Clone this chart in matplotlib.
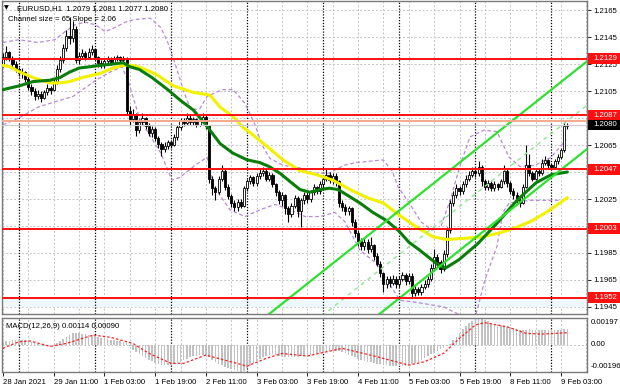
import matplotlib
matplotlib.use("Agg")
import matplotlib.pyplot as plt
from matplotlib.patches import Rectangle
import matplotlib.transforms as mtransforms

plt.rcParams['font.family'] = ['Liberation Sans', 'DejaVu Sans']

# ---------------- data (prices as 4-digit offsets: 2130 -> 1.2130) ----------------
first_open = 2125
closes = [2130, 2134, 2129, 2125, 2121, 2118, 2119, 2114, 2108, 2105,
          2101, 2103, 2100, 2104, 2107, 2106, 2112, 2121, 2128, 2137,
          2146, 2144, 2151, 2128, 2131, 2133, 2130, 2134, 2136, 2130,
          2126, 2124, 2127, 2129, 2126, 2129, 2130, 2128, 2129, 2090,
          2084, 2088, 2076, 2082, 2085, 2079, 2074, 2077, 2070, 2066,
          2062, 2064, 2067, 2065, 2071, 2078, 2083, 2081, 2085, 2082,
          2084, 2080, 2083, 2086, 2079, 2040, 2033, 2030, 2040, 2046,
          2034, 2027, 2022, 2019, 2023, 2020, 2033, 2038, 2041, 2037,
          2042, 2044, 2046, 2040, 2043, 2036, 2030, 2024, 2028, 2018,
          2014, 2020, 2026, 2016, 2024, 2028, 2025, 2030, 2034, 2031,
          2036, 2040, 2043, 2039, 2042, 2038, 2022, 2019, 2016, 2018,
          2008, 2000, 1994, 1990, 1993, 1988, 1991, 1983, 1977, 1970,
          1962, 1966, 1963, 1966, 1962, 1966, 1969, 1964, 1968, 1955,
          1958, 1956, 1960, 1962, 1966, 1974, 1982, 1978, 1973, 1984,
          2002, 2022, 2028, 2033, 2031, 2036, 2040, 2043, 2046, 2044,
          2049, 2038, 2034, 2037, 2033, 2036, 2034, 2038, 2046, 2037,
          2031, 2028, 2024, 2022, 2034, 2050, 2044, 2040, 2046, 2044,
          2052, 2054, 2050, 2049, 2053, 2056, 2061, 2079, 2080]
highs = [2133, 2138, 2135, 2131, 2127, 2123, 2122, 2120, 2116, 2110,
         2107, 2106, 2105, 2106, 2110, 2109, 2114, 2124, 2131, 2140,
         2150, 2160, 2157, 2153, 2134, 2136, 2135, 2137, 2139, 2137,
         2131, 2128, 2129, 2131, 2130, 2131, 2132, 2131, 2131, 2130,
         2094, 2092, 2089, 2084, 2089, 2086, 2081, 2079, 2078, 2072,
         2067, 2067, 2069, 2069, 2073, 2080, 2085, 2085, 2089, 2087,
         2086, 2085, 2085, 2089, 2087, 2080, 2042, 2035, 2042, 2050,
         2047, 2036, 2029, 2024, 2025, 2025, 2035, 2040, 2043, 2042,
         2044, 2048, 2049, 2047, 2045, 2044, 2037, 2032, 2030, 2029,
         2020, 2022, 2028, 2027, 2026, 2030, 2030, 2032, 2036, 2035,
         2038, 2042, 2047, 2045, 2044, 2044, 2039, 2024, 2021, 2020,
         2019, 2010, 2002, 1996, 1996, 1995, 1997, 1992, 1985, 1979,
         1971, 1968, 1968, 1969, 1968, 1968, 1971, 1970, 1970, 1970,
         1961, 1960, 1962, 1965, 1968, 1977, 1988, 1984, 1980, 1987,
         2004, 2024, 2031, 2036, 2035, 2038, 2043, 2046, 2049, 2048,
         2053, 2050, 2040, 2039, 2038, 2038, 2037, 2040, 2050, 2047,
         2038, 2033, 2030, 2026, 2036, 2065, 2058, 2046, 2048, 2048,
         2055, 2057, 2055, 2052, 2055, 2058, 2063, 2082, 2081]
lows = [2123, 2128, 2127, 2123, 2119, 2116, 2115, 2112, 2106, 2102,
        2098, 2099, 2097, 2099, 2102, 2103, 2105, 2110, 2119, 2126,
        2135, 2140, 2141, 2126, 2125, 2129, 2128, 2129, 2132, 2128,
        2123, 2122, 2122, 2125, 2124, 2125, 2127, 2126, 2126, 2087,
        2080, 2082, 2072, 2074, 2080, 2077, 2072, 2071, 2068, 2063,
        2057, 2060, 2062, 2063, 2064, 2069, 2076, 2079, 2080, 2080,
        2080, 2078, 2079, 2082, 2077, 2037, 2028, 2024, 2029, 2038,
        2032, 2025, 2019, 2016, 2016, 2018, 2019, 2031, 2036, 2035,
        2035, 2040, 2042, 2038, 2038, 2034, 2027, 2021, 2020, 2014,
        2008, 2012, 2018, 2012, 2004, 2021, 2022, 2023, 2028, 2029,
        2029, 2034, 2038, 2037, 2036, 2035, 2019, 2016, 2013, 2013,
        2005, 1997, 1990, 1987, 1987, 1985, 1986, 1980, 1975, 1967,
        1956, 1959, 1960, 1961, 1959, 1960, 1964, 1961, 1962, 1952,
        1953, 1954, 1954, 1958, 1960, 1964, 1972, 1975, 1970, 1972,
        1982, 2000, 2020, 2026, 2028, 2029, 2034, 2038, 2041, 2041,
        2042, 2035, 2032, 2032, 2031, 2031, 2032, 2033, 2036, 2034,
        2029, 2025, 2022, 2019, 2021, 2033, 2042, 2038, 2039, 2042,
        2043, 2050, 2048, 2047, 2048, 2051, 2055, 2060, 2077]
opens = [first_open] + closes[:-1]

# moving averages (sampled readings: bar index, price offset)
green_i = [0, 5.4, 9.5, 14.8, 18, 21, 24, 27.4, 30.6, 34.7, 37.9, 40, 43, 47, 52, 56, 60, 64,
           68.5, 72.5, 77, 81, 84, 87.4, 90.5, 93.7, 96.8, 100, 103, 105.7, 108.5, 112.6,
           116.7, 121, 125, 128, 131.5, 134.7, 137.9, 139.7, 143.8, 149.8, 155.8, 162.1,
           168.1, 172.9, 178]
green_v = [2106, 2109, 2112, 2113, 2115, 2119, 2122, 2123, 2124, 2125, 2126, 2123, 2121, 2115,
           2106, 2098, 2091, 2080, 2066, 2059, 2054, 2052, 2049, 2044, 2038, 2032, 2030, 2032,
           2033, 2032, 2028, 2022, 2015, 2009, 2001, 1993, 1987, 1981, 1975, 1974, 1980, 1992,
           2007, 2024, 2037, 2043, 2045]
yellow_i = [0, 2.2, 5.4, 9.5, 14.8, 18, 21, 25, 30.6, 34.7, 37.9, 41, 44, 48.6, 53.6, 60, 65.3,
            68.5, 72.6, 75.7, 78, 83.3, 88.3, 93.7, 99, 104, 109.5, 114.8, 120, 125, 130.6,
            135.6, 140, 146.4, 151.4, 156.8, 162, 167, 172.6, 178]
yellow_v = [2124, 2123, 2119, 2115, 2111, 2111, 2112, 2115, 2118, 2122, 2124, 2124, 2122, 2117,
            2109, 2104, 2102, 2093, 2086, 2078, 2074, 2064, 2054, 2046, 2043, 2039, 2032, 2026,
            2022, 2013, 2004, 1997, 1995, 1996, 1997, 2000, 2004, 2009, 2017, 2026]
band_up_i = [0, 5, 11, 16.4, 19.6, 22.7, 25.9, 29.3, 32.2, 35.3, 38.5, 41.6, 46.4, 49.8, 52,
             54.6, 57.1, 59.3, 62.1, 64.4, 69.1, 72.6, 76.3, 79.5, 81.7, 84.2, 88.3, 93.7,
             98.1, 102.8, 107.6, 111.4, 119.9, 122.7, 124.6, 128.4, 131.9, 135.3, 137.9, 141,
             144.2, 147.3, 151.7, 155.8, 159.6, 163.1, 167.8, 172.9, 177.6]
band_up_v = [2141, 2143, 2141, 2143, 2149, 2154, 2156, 2154, 2149, 2152, 2156, 2158, 2159, 2152,
             2141, 2123, 2104, 2091, 2092, 2101, 2106, 2106, 2096, 2080, 2065, 2055, 2050, 2048,
             2044, 2044, 2050, 2052, 2054, 2046, 2034, 2021, 2008, 2002, 2003, 2024, 2050, 2071,
             2076, 2075, 2056, 2049, 2050, 2056, 2069]
band_lo_i = [0, 5, 11, 16.4, 22.1, 29.3, 33.8, 37.5, 39.4, 43.2, 49.8, 53.3, 55.8, 60.6, 64.4,
             66.6, 71.6, 76.3, 81.1, 85.8, 90.5, 95.3, 100, 104.7, 107.9, 112.6, 117.4, 121.1,
             125.2, 131.5, 139.1, 144.2, 148.9, 152, 155.8, 157.7, 159.6, 166.2, 177.6]
band_lo_v = [2080, 2085, 2093, 2097, 2101, 2113, 2119, 2123, 2113, 2084, 2059, 2039, 2041, 2050,
             2056, 2034, 2017, 2012, 2017, 2021, 2017, 2012, 2012, 2015, 2008, 1987, 1978, 1965,
             1950, 1948, 1945, 1939, 1937, 1965, 1990, 2015, 2022, 2024, 2024]

# regression channel (Channel size = 65, Slope = 2.06)
chan_i = [80, 184.2]
chan_upper = [1932.4, 2127.0]
chan_size = 65

levels = [2129, 2087, 2047, 2003, 1952]
last_price = 2080

# MACD (values in 1e-5)
macd_hist = [25, 28, 32, 36, 40, 40, 38, 35, 30, 25,
             18, 10, 4, -5, -10, -8, 0, 12, 28, 45,
             60, 75, 85, 88, 86, 82, 78, 75, 72, 66,
             60, 55, 50, 45, 40, 36, 32, 26, 20, 12,
             -10, -35, -50, -65, -80, -95, -108, -118, -128, -136,
             -142, -146, -146, -144, -138, -130, -120, -110, -100, -90,
             -82, -76, -73, -73, -76, -90, -110, -125, -138, -148,
             -158, -166, -174, -182, -190, -196, -188, -170, -150, -132,
             -115, -100, -88, -76, -70, -66, -70, -76, -82, -86,
             -88, -88, -86, -84, -82, -80, -78, -75, -70, -65,
             -60, -55, -50, -45, -42, -40, -45, -52, -60, -70,
             -80, -90, -100, -108, -115, -120, -125, -130, -135, -140,
             -143, -146, -150, -152, -155, -155, -153, -150, -145, -140,
             -130, -120, -108, -95, -82, -68, -55, -42, -30, -18,
             -6, 10, 35, 62, 90, 115, 140, 160, 178, 190,
             197, 192, 182, 172, 164, 156, 150, 145, 140, 135,
             130, 125, 118, 112, 108, 112, 116, 112, 110, 110,
             112, 113, 112, 112, 110, 108, 110, 116, 114]
sig_i = [0, 5, 8.5, 15, 20, 28.5, 34, 41, 46, 53, 57, 64, 70, 77, 83, 88, 96, 107, 118, 128,
         133, 139, 144, 149, 152, 159, 165, 170, 178]
sig_v = [-24, 24, 30, -10, 12, 73, 56, 12, -60, -133, -133, -73, -110, -153, -97, -61, -80,
         -24, -85, -146, -121, -60, 49, 146, 163, 133, 85, 80, 90]

xtick_labels = ["28 Jan 2021", "29 Jan 11:00", "1 Feb 03:00", "1 Feb 19:00", "2 Feb 11:00",
                "3 Feb 03:00", "3 Feb 19:00", "4 Feb 11:00", "5 Feb 03:00", "5 Feb 19:00",
                "8 Feb 11:00", "9 Feb 03:00"]
xtick_pos = [0, 16, 32, 48, 64, 80, 96, 112, 128, 144, 160, 176]
day_sep = [5, 29, 53, 77, 101, 125, 149, 173]
price_ticks = [1945, 1965, 1985, 2005, 2025, 2045, 2065, 2085, 2105, 2125, 2145, 2165]
hidden_ticks = [2005, 2045, 2085]   # covered by the level labels


def P(v):
    return 1.0 + v / 10000.0


# ---------------- figure ----------------
W, H = 620, 388
fig = plt.figure(figsize=(W / 100, H / 100), dpi=100)
fig.patch.set_facecolor('white')


def fx(px):
    return px / W


def fy(py):
    return 1 - py / H


ax = fig.add_axes([fx(2), fy(314), fx(587) - fx(2), fy(1) - fy(314)])
axm = fig.add_axes([fx(2), fy(372), fx(587) - fx(2), fy(318) - fy(372)])
XL = (-0.3, 184.2)
ax.set_xlim(*XL)
axm.set_xlim(*XL)
ax.set_ylim(1.19398, 1.21717)
axm.set_ylim(-0.00196, 0.00197)

FS = 5.6
grid_c = '#c4c4c4'
for a in (ax, axm):
    for s in a.spines.values():
        s.set_color('#7a7a7a')
        s.set_linewidth(1.0)
    for k in range(0, 185, 8):
        a.axvline(k, color=grid_c, lw=0.7, ls=(0, (2, 2)), zorder=0)
    for d in day_sep:
        a.axvline(d, color='black', lw=0.9, ls=(0, (1, 1.3)), zorder=1)

for t in price_ticks:
    ax.axhline(P(t), color=grid_c, lw=0.7, ls=(0, (2, 2)), zorder=0)
axm.axhline(0, color=grid_c, lw=0.7, ls=(0, (2, 2)), zorder=0)

# faint zone under lowest level
ax.axhspan(P(1945.5), P(1951.5), color='#eef7fb', zorder=0)

# bands
ax.plot(band_up_i, [P(v) for v in band_up_v], color='#b98ad8', lw=0.9, ls=(0, (3, 2)), zorder=2)
ax.plot(band_lo_i, [P(v) for v in band_lo_v], color='#b98ad8', lw=0.9, ls=(0, (3, 2)), zorder=2)

# candles
n = len(closes)
for i in range(n):
    o, h, l, c = opens[i], highs[i], lows[i], closes[i]
    ax.plot([i, i], [P(l), P(h)], color='black', lw=0.8, zorder=3, solid_capstyle='butt')
    lo, hi = min(o, c), max(o, c)
    if hi - lo < 0.4:
        hi = lo + 0.4
    fc = 'white' if c >= o else 'black'
    ax.add_patch(Rectangle((i - 0.33, P(lo)), 0.66, P(hi) - P(lo), facecolor=fc,
                           edgecolor='black', lw=0.6, zorder=3))

# moving averages
ax.plot(yellow_i, [P(v) for v in yellow_v], color='#f2f200', lw=2.2, zorder=4,
        solid_capstyle='round', solid_joinstyle='round')
ax.plot(green_i, [P(v) for v in green_v], color='#0b7d0b', lw=2.2, zorder=4,
        solid_capstyle='round', solid_joinstyle='round')

# channel
up = [P(v) for v in chan_upper]
mid = [P(v - chan_size / 2) for v in chan_upper]
low = [P(v - chan_size) for v in chan_upper]
ax.plot(chan_i, up, color='#2fe02f', lw=1.6, zorder=4)
ax.plot(chan_i, low, color='#2fe02f', lw=1.6, zorder=4)
ax.plot(chan_i, mid, color='#8ee88e', lw=1.0, ls=(0, (3, 3)), zorder=4)

# levels
ax.axhline(P(last_price + 2.7), color='#f4a98c', lw=1.4, zorder=5)
ax.axhline(P(last_price), color='#cfcfcf', lw=0.9, zorder=5)
for lv in levels:
    ax.axhline(P(lv), color='#ff1010', lw=1.4, zorder=5)

# y axis on right
ax.yaxis.tick_right()
ax.set_yticks([P(t) for t in price_ticks])
ax.set_yticklabels(['' if t in hidden_ticks else '%.4f' % P(t) for t in price_ticks])
ax.tick_params(axis='y', labelsize=FS, length=3, width=0.6, pad=1.5, colors='black')
ax.set_xticks([])

trans = mtransforms.blended_transform_factory(ax.transAxes, ax.transData)
box_h = 10.5 / 13500
for lv in levels:
    ax.add_patch(Rectangle((1.0015, P(lv) - box_h / 2), 0.056, box_h, transform=trans,
                           facecolor='#ff1010', edgecolor='none', clip_on=False, zorder=10))
    ax.text(1.011, P(lv), '%.4f' % P(lv), transform=trans, color='white', fontsize=FS,
            ha='left', va='center', clip_on=False, zorder=11)
ax.add_patch(Rectangle((1.0015, P(last_price) - box_h / 2), 0.056, box_h, transform=trans,
                       facecolor='black', edgecolor='none', clip_on=False, zorder=12))
ax.text(1.011, P(last_price), '%.4f' % P(last_price), transform=trans, color='white',
        fontsize=FS, ha='left', va='center', clip_on=False, zorder=13)

# title texts
ax.text(0.004, 0.985, '\u25BC', transform=ax.transAxes, fontsize=4.5, va='top', ha='left',
        family=['DejaVu Sans'], zorder=12)
ax.text(0.026, 0.988, 'EURUSD,H1  1.2079 1.2081 1.2077 1.2080', transform=ax.transAxes,
        fontsize=FS, va='top', ha='left', zorder=12)
ax.text(0.010, 0.952, 'Channel size = 65 Slope = 2.06', transform=ax.transAxes,
        fontsize=FS, va='top', ha='left', zorder=12)

# MACD
axm.bar(range(n), [v * 1e-5 for v in macd_hist], width=0.5, color='#c2c2c2', zorder=2)
axm.plot(sig_i, [v * 1e-5 for v in sig_v], color='#ff2020', lw=0.9, ls=(0, (2, 1.6)), zorder=3)
axm.text(0.006, 0.90, 'MACD(12,26,9) 0.00114 0.00090', transform=axm.transAxes,
         fontsize=FS, va='top', ha='left', zorder=5)
axm.set_yticks([])
for val, py in ((0.00197, 323), (0.0, 344), (-0.00196, 367)):
    fig.text(fx(591), fy(py), ('%.5f' % val) if val != 0 else '0.00', fontsize=FS,
             va='center', ha='left')

axm.set_xticks(xtick_pos)
axm.set_xticklabels(xtick_labels)
axm.tick_params(axis='x', labelsize=FS, length=3, width=0.6, pad=2, colors='black')
for lbl in axm.get_xticklabels():
    lbl.set_ha('left')

fig.savefig('out.png', dpi=100, facecolor='white')
